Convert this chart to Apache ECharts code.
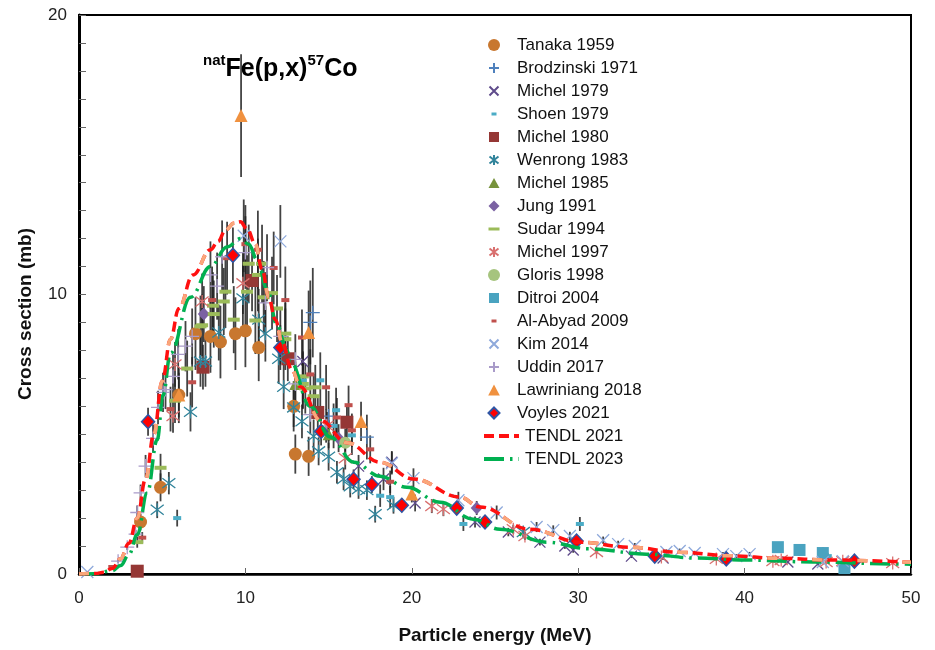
<!DOCTYPE html>
<html>
<head>
<meta charset="utf-8">
<title>natFe(p,x)57Co</title>
<script src="https://cdn.jsdelivr.net/npm/echarts@6/dist/echarts.min.js"></script>
<style>body{margin:0;background:#fff}</style>
</head>
<body>
<div id="main" style="width:935px;height:650px;"></div>
<script>
// each point: [energy MeV, cross section mb, error mb]
var tanaka1959 = [[3.7,1.86,0.3],[4.9,3.1,0.5],[6.0,6.4,1.0],[7.0,8.6,1.3],[7.9,8.5,1.3],[8.5,8.3,1.3],[9.4,8.6,1.3],[10.0,8.7,1.3],[10.8,8.1,1.2],[12.9,6.0,0.9],[13.0,4.29,0.7],[13.8,4.21,0.7]];
var brodzinski1971 = [[14.05,9.35,1.6],[13.9,9.0,1.5],[15.0,5.65,0.9],[17.3,4.9,0.8]];
var michel1979 = [[13.45,7.6,0.8],[16.8,3.86,0.4],[18.3,3.4,0.4],[18.8,4.0,0.4],[20.2,2.54,0.3],[23.8,1.86,0.2],[25.8,1.5,0.15],[27.7,1.14,0.12],[29.2,1.0,0.1],[29.7,0.86,0.1],[33.2,0.64,0.07],[35.1,0.57,0.06],[42.6,0.43,0.05],[44.4,0.36,0.05]];
var shoen1979 = [[5.9,2.0,0.3],[13.45,6.93,1.0],[14.5,6.93,1.0],[15.3,5.3,0.8],[15.45,5.86,0.8],[16.4,4.96,0.7],[18.1,2.8,0.4],[18.7,2.75,0.4],[23.1,1.79,0.25],[30.1,1.79,0.25],[45.0,0.64,0.1]];
var michel1980 = [[3.5,0.1,0.02],[7.45,7.4,0.8],[10.4,10.5,1.1],[12.55,7.7,0.8],[14.35,5.78,0.6],[16.1,5.43,0.6]];
var wenrong1983 = [[4.7,2.3,0.3],[5.4,3.25,0.4],[6.7,5.8,0.7],[7.3,7.6,0.9],[7.6,7.6,0.9],[8.4,8.64,1.0],[9.85,9.86,1.2],[10.8,9.1,1.1],[11.2,8.6,1.0],[12.0,7.7,0.9],[12.3,6.7,0.8],[12.9,5.96,0.7],[13.4,5.46,0.6],[14.1,4.93,0.6],[14.4,4.39,0.5],[15.0,4.2,0.5],[15.5,3.64,0.4],[15.9,3.4,0.4],[16.3,3.14,0.4],[16.8,3.04,0.35],[17.3,3.0,0.35],[17.8,2.14,0.3],[18.9,2.46,0.3],[26.7,1.5,0.2]];
var michel1985 = [[13.0,6.8,0.7],[15.0,5.0,0.5]];
var jung1991 = [[7.5,9.3,1.0],[15.6,4.86,0.5],[23.9,2.36,0.25]];
var sudar1994 = [[3.5,1.14,0.2],[4.9,3.8,0.5],[5.77,6.2,0.8],[6.5,7.35,1.0],[7.3,8.86,1.1],[7.4,8.9,1.1],[8.05,9.6,1.2],[8.1,9.3,1.2],[8.7,9.75,1.2],[8.8,10.1,1.3],[9.3,9.1,1.2],[10.1,10.1,1.3],[10.2,11.1,1.4],[10.6,9.07,1.2],[10.75,10.7,1.3],[11.0,11.1,1.4],[11.1,9.9,1.3],[11.6,10.05,1.3],[11.9,9.5,1.2],[12.4,8.6,1.1],[12.4,8.4,1.1],[13.45,7.07,0.9],[13.45,6.8,0.9],[13.6,6.64,0.9],[14.1,6.36,0.8],[14.2,6.68,0.8]];
var michel1997 = [[5.65,5.65,0.6],[5.77,7.5,0.8],[7.4,9.75,1.0],[9.85,10.4,1.1],[14.9,5.3,0.5],[16.0,4.14,0.4],[21.2,2.43,0.25],[21.9,2.32,0.25],[26.1,1.6,0.16],[26.8,1.36,0.14],[31.1,0.79,0.08],[35.0,0.61,0.06],[38.3,0.54,0.06],[41.7,0.46,0.05],[42.2,0.5,0.05],[44.9,0.43,0.05],[45.9,0.46,0.05],[48.9,0.39,0.04]];
var gloris1998 = [[16.0,4.7,0.5]];
var ditroi2004 = [[42.0,0.96,0.1],[43.3,0.86,0.2],[44.7,0.75,0.2],[46.0,0.21,0.03]];
var alAbyad2009 = [[2.0,0.25,0.05],[3.8,1.3,0.2],[5.5,5.9,0.8],[6.8,6.86,0.9],[8.0,9.8,1.2],[8.9,11.3,1.3],[10.0,11.8,1.4],[10.75,11.6,1.4],[11.7,10.95,1.3],[12.4,9.8,1.2],[13.4,8.46,1.0],[13.9,7.14,0.9],[14.85,6.68,0.8],[15.5,5.6,0.7],[16.2,6.04,0.7],[16.4,5.14,0.6],[17.5,4.46,0.5],[18.7,3.3,0.4]];
var kim2014 = [[0.5,0.07,0.02],[9.9,12.1,1.3],[12.1,11.9,1.3],[18.8,3.96,0.4],[20.1,3.43,0.35],[22.8,2.64,0.3],[25.1,2.2,0.25],[27.5,1.68,0.18],[28.5,1.57,0.17],[29.5,1.36,0.15],[31.5,1.21,0.13],[32.4,1.07,0.12],[33.4,1.0,0.11],[35.3,0.79,0.09],[36.1,0.82,0.09],[37.0,0.75,0.08],[38.7,0.71,0.08],[39.5,0.64,0.07],[40.3,0.71,0.08],[44.7,0.43,0.05],[45.9,0.46,0.05]];
var uddin2017 = [[2.35,0.46,0.05],[2.9,0.96,0.1],[3.4,1.43,0.15],[3.5,2.2,0.25],[3.7,2.9,0.3],[4.0,3.86,0.4],[4.45,4.85,0.5],[4.75,5.96,0.6],[5.05,6.5,0.7],[5.2,6.6,0.7],[5.65,7.07,0.8],[5.96,7.86,0.9],[6.4,8.15,0.9],[6.8,8.5,1.0],[7.9,10.7,1.2],[8.3,10.3,1.2],[8.6,11.35,1.3],[10.0,11.5,1.3],[11.3,10.96,1.2],[11.2,9.7,1.1],[12.1,8.5,1.0],[13.0,7.68,0.9],[13.0,6.8,0.8],[13.9,5.7,0.7],[14.85,5.3,0.6]];
var lawriniang2018 = [[6.0,6.4,0.8],[9.74,16.4,2.2],[13.8,8.64,1.5],[16.95,5.46,0.7],[20.0,2.86,0.3]];
var voyles2021 = [[4.15,5.45,0.5],[9.25,11.4,1.0],[12.1,8.1,0.8],[14.55,5.1,0.5],[16.5,3.39,0.35],[17.6,3.2,0.3],[19.4,2.46,0.25],[22.7,2.36,0.24],[24.4,1.86,0.19],[29.9,1.18,0.12],[34.6,0.64,0.07],[38.9,0.54,0.06],[46.6,0.46,0.05]];

var tendl2021E = [0,1.0,1.5,2.0,2.5,3.0,3.5,4.0,4.5,5.0,5.5,6.0,6.85,7.9,8.35,8.8,9.3,9.7,10.1,10.6,11.0,11.4,11.8,12.2,12.8,13.3,14.5,16.1,18.1,20.1,22.9,24.1,27.1,30.1,33.1,36.1,39.1,42.1,45.1,50];
var tendl2021S = [0,0.02,0.06,0.2,0.55,1.1,2.0,3.4,5.0,6.9,8.4,9.5,10.7,11.6,11.9,12.3,12.55,12.6,12.35,11.8,10.9,9.9,9.1,8.3,7.3,6.7,5.5,4.7,4.0,3.4,2.75,2.4,1.6,1.14,0.96,0.78,0.65,0.56,0.5,0.42];
var tendl2023E = [0,1.0,2.0,2.5,3.0,3.5,4.1,4.7,5.05,5.5,6.7,7.9,8.9,9.7,10.2,10.7,11.3,11.9,12.5,12.7,13.9,15.1,16.5,18.1,19.7,21.7,23.7,25.3,28.1,30.7,34.1,37.1,40.1,44.1,49.2,50];
var tendl2023S = [0,0.01,0.12,0.3,0.7,1.4,2.9,4.8,6.4,7.9,9.9,11.0,11.7,12.0,11.8,11.25,10.2,8.9,8.0,7.6,6.0,4.9,4.0,3.5,3.1,2.57,1.96,1.6,1.14,0.9,0.71,0.57,0.5,0.43,0.36,0.35];

var xTicks = [0, 10, 20, 30, 40, 50];
var yTicks = [0, 10, 20];

var FONT = '"Liberation Sans", Arial, Helvetica, sans-serif';
var PAD = 'M0,0M12,12';
var plusSym = 'path://M5,0V10M0,5H10';
var crossSym = 'path://M0,0L10,10M10,0L0,10';
var starSym = 'path://M0,1.2L10,8.8M10,1.2L0,8.8M5,0V10';

var sets = [
  {name: 'Tanaka 1959', data: tanaka1959, symbol: 'circle', size: 13, color: '#C8772F', icon: 'circle'},
  {name: 'Brodzinski 1971', data: brodzinski1971, symbol: plusSym, size: 14, color: '#4F81BD', stroke: true, icon: 'path://' + PAD + 'M6,1V11M1,6H11'},
  {name: 'Michel 1979', data: michel1979, symbol: crossSym, size: 11, color: '#5F4B8B', stroke: true, icon: 'path://' + PAD + 'M1.5,1.5L10.5,10.5M10.5,1.5L1.5,10.5'},
  {name: 'Shoen 1979', data: shoen1979, symbol: 'rect', size: [8, 4], color: '#4BACC6', icon: 'path://' + PAD + 'M3.5,4.5h5v3h-5z'},
  {name: 'Michel 1980', data: michel1980, symbol: 'rect', size: 13, color: '#953735', icon: 'path://' + PAD + 'M1,1h10v10h-10z'},
  {name: 'Wenrong 1983', data: wenrong1983, symbol: starSym, size: 13, color: '#31849B', stroke: true, icon: 'path://' + PAD + 'M1.5,2.5L10.5,9.5M10.5,2.5L1.5,9.5M6,1V11'},
  {name: 'Michel 1985', data: michel1985, symbol: 'triangle', size: 12, color: '#77933C', icon: 'path://' + PAD + 'M6,1L11.5,11H0.5Z'},
  {name: 'Jung 1991', data: jung1991, symbol: 'diamond', size: [12, 13], color: '#7B62A3', icon: 'path://' + PAD + 'M6,0.5L11.5,6L6,11.5L0.5,6Z'},
  {name: 'Sudar 1994', data: sudar1994, symbol: 'rect', size: [12, 4], color: '#9BBB59', icon: 'path://' + PAD + 'M0.5,4.5h11v3h-11z'},
  {name: 'Michel 1997', data: michel1997, symbol: starSym, size: 13, color: '#D9706F', stroke: true, icon: 'path://' + PAD + 'M1.5,2.5L10.5,9.5M10.5,2.5L1.5,9.5M6,1V11'},
  {name: 'Gloris 1998', data: gloris1998, symbol: 'circle', size: 12, color: '#A6C47E', icon: 'circle'},
  {name: 'Ditroi 2004', data: ditroi2004, symbol: 'rect', size: 12, color: '#4AA3C0', icon: 'path://' + PAD + 'M1,1h10v10h-10z'},
  {name: 'Al-Abyad 2009', data: alAbyad2009, symbol: 'rect', size: [8, 4], color: '#C0504D', icon: 'path://' + PAD + 'M3.5,4.5h5v3h-5z'},
  {name: 'Kim 2014', data: kim2014, symbol: crossSym, size: 12, color: '#8EA9DB', stroke: true, icon: 'path://' + PAD + 'M1.5,1.5L10.5,10.5M10.5,1.5L1.5,10.5'},
  {name: 'Uddin 2017', data: uddin2017, symbol: plusSym, size: 14, color: '#A99BC9', stroke: true, icon: 'path://' + PAD + 'M6,1V11M1,6H11'},
  {name: 'Lawriniang 2018', data: lawriniang2018, symbol: 'triangle', size: 13, color: '#F0913F', icon: 'path://' + PAD + 'M6,0.5L11.8,11.5H0.2Z'},
  {name: 'Voyles 2021', data: voyles2021, symbol: 'diamond', size: [13, 14], color: '#FF0000', border: '#2F55A4', icon: 'path://' + PAD + 'M6,0.5L11.5,6L6,11.5L0.5,6Z'}
];

var chart = echarts.init(document.getElementById('main'));

var errData = [];
sets.forEach(function (s) { s.data.forEach(function (p) { errData.push(p); }); });

var series = [{
  name: 'errors',
  type: 'custom',
  z: 1,
  silent: true,
  data: errData,
  renderItem: function (params, api) {
    var x = api.value(0), y = api.value(1), e = api.value(2);
    var p1 = api.coord([x, y + e]);
    var p2 = api.coord([x, y - e]);
    return {
      type: 'line',
      shape: {x1: p1[0], y1: p1[1], x2: p2[0], y2: p2[1]},
      style: {stroke: '#222', lineWidth: 1.8, opacity: 0.85}
    };
  }
}];

sets.forEach(function (s) {
  series.push({
    name: s.name,
    type: 'scatter',
    z: 2,
    symbol: s.symbol,
    symbolSize: s.size,
    data: s.data.map(function (p) { return [p[0], p[1]]; }),
    itemStyle: s.stroke ? {color: s.color, borderColor: s.color, borderWidth: 1.3, opacity: 1}
      : {color: s.color, borderColor: s.border || s.color, borderWidth: s.border ? 1.5 : 0, opacity: 1}
  });
});

series.push({
  name: 'TENDL 2023', type: 'line', z: 3, symbol: 'none', smooth: 0.4, smoothMonotone: 'x',
  data: tendl2023E.map(function (e, i) { return [e, tendl2023S[i]]; }),
  lineStyle: {color: '#00B050', width: 3.5, type: [20, 6, 2.5, 6]}
});
series.push({
  name: 'TENDL 2021', type: 'line', z: 4, symbol: 'none', smooth: 0.4, smoothMonotone: 'x',
  data: tendl2021E.map(function (e, i) { return [e, tendl2021S[i]]; }),
  lineStyle: {color: '#FF1010', width: 3.5, type: [10, 5]}
});
series.push({
  name: 'TENDL 2021 overlay', type: 'line', z: 5, symbol: 'none', smooth: 0.4, smoothMonotone: 'x',
  data: tendl2021E.map(function (e, i) { return [e, tendl2021S[i]]; }),
  lineStyle: {color: '#F9A77A', width: 3.5, type: [10, 35]}
});

var option = {
  animation: false,
  backgroundColor: '#fff',
  textStyle: {fontFamily: FONT},
  grid: {left: 79, right: 24, top: 15, bottom: 75, show: true, borderColor: '#000', borderWidth: 2, backgroundColor: 'transparent'},
  legend: [{
    orient: 'vertical', left: 487, top: 36, padding: 0,
    itemWidth: 26, itemHeight: 12, itemGap: 5,
    textStyle: {fontSize: 17, color: '#111', lineHeight: 18, padding: [0, 0, 0, 5], fontFamily: FONT},
    data: sets.map(function (s) { return {name: s.name, icon: s.icon}; }),
    selectedMode: false
  }, {
    orient: 'vertical', left: 482, top: 427, padding: 0,
    itemWidth: 35, itemHeight: 12, itemGap: 5,
    textStyle: {fontSize: 17, color: '#111', lineHeight: 18, padding: [0, 0, 0, 1], fontFamily: FONT},
    data: [
      {name: 'TENDL 2021', itemStyle: {opacity: 0}, lineStyle: {width: 4}},
      {name: 'TENDL 2023', itemStyle: {opacity: 0}, lineStyle: {width: 4}}
    ],
    selectedMode: false
  }],
  xAxis: {
    type: 'value', min: xTicks[0], max: xTicks[xTicks.length - 1], interval: 10,
    name: 'Particle energy (MeV)', nameLocation: 'middle', nameGap: 52,
    nameTextStyle: {fontSize: 19, fontWeight: 'bold', color: '#111', fontFamily: FONT},
    axisLine: {lineStyle: {color: '#000', width: 2.5}},
    axisTick: {inside: true, length: 6, lineStyle: {color: '#666', width: 1}},
    axisLabel: {fontSize: 17, color: '#222', margin: 16, fontFamily: FONT},
    splitLine: {show: false}
  },
  yAxis: {
    type: 'value', min: yTicks[0], max: yTicks[yTicks.length - 1], interval: 10,
    axisLine: {show: true, lineStyle: {color: '#000', width: 3}},
    axisTick: {inside: true, length: 7, lineStyle: {color: '#666', width: 1}},
    minorTick: {show: true, splitNumber: 10, length: 7, lineStyle: {color: '#666', width: 1}},
    axisLabel: {fontSize: 17, color: '#222', margin: 12, fontFamily: FONT},
    splitLine: {show: false}
  },
  graphic: [{
    type: 'text', left: 203, top: 53, z: 10,
    style: {
      text: '{s|nat}{m|Fe(p,x)}{s|57}{m|Co}',
      rich: {
        s: {fontSize: 15, fontWeight: 'bold', fill: '#000', fontFamily: FONT, verticalAlign: 'top', lineHeight: 29},
        m: {fontSize: 25, fontWeight: 'bold', fill: '#000', fontFamily: FONT, verticalAlign: 'bottom', lineHeight: 29}
      }
    }
  }, {
    type: 'text', x: 26, y: 314, rotation: Math.PI / 2, z: 10,
    style: {text: 'Cross section (mb)', fontSize: 19, fontWeight: 'bold', fill: '#111', fontFamily: FONT, align: 'center', verticalAlign: 'middle'}
  }],
  series: series
};

chart.setOption(option);
</script>
</body>
</html>
